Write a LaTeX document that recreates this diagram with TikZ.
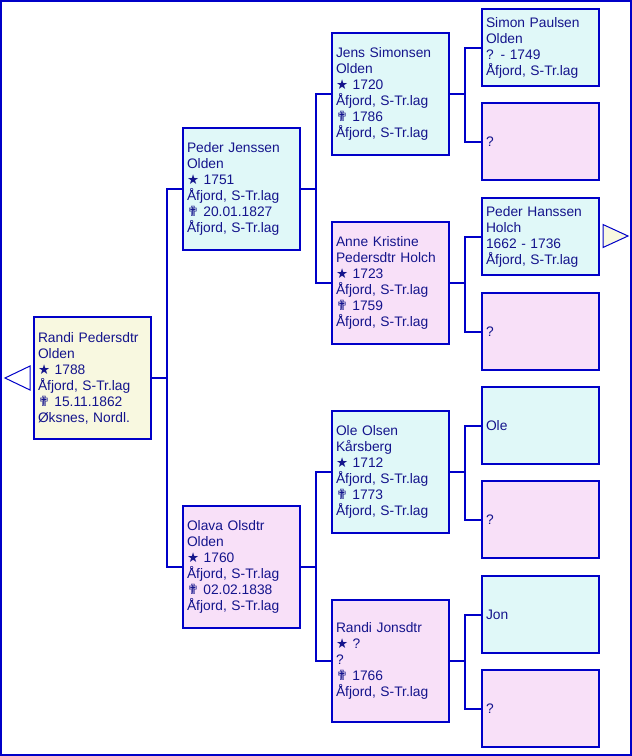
\documentclass[tikz,border=0pt]{standalone}
\usepackage{fontspec}
\setmainfont{Liberation Sans}
\newfontfamily\symfont{DejaVu Sans}
\definecolor{lineblue}{RGB}{0,0,200}
\definecolor{textblue}{RGB}{20,20,140}
\definecolor{fillcyan}{RGB}{224,248,248}
\definecolor{fillpink}{RGB}{248,224,248}
\definecolor{fillcream}{RGB}{248,248,224}
\newcommand\bstar{{\symfont\fontsize{13.5}{16}\selectfont ★}}
\newcommand\dcross{{\symfont\fontsize{14}{16}\selectfont ✟}}
\begin{document}
\begin{tikzpicture}[x=1pt,y=-1pt,
  box/.style={draw=lineblue, line width=2pt, outer sep=0pt, anchor=north west,
    minimum width=117pt, minimum height=122pt, inner xsep=4pt, inner ysep=0pt,
    text width=109pt, align=left, text=textblue,
    font=\fontsize{13.8}{16}\selectfont},
  smallbox/.style={box, minimum height=77pt},
  cyanbox/.style={fill=fillcyan},
  pinkbox/.style={fill=fillpink},
  creambox/.style={fill=fillcream},
  conn/.style={draw=lineblue, line width=2pt, line join=miter},
  tri/.style={draw=lineblue, line width=1pt, line join=miter}]
\useasboundingbox (0,0) rectangle (632,756);
\fill[white] (0,0) rectangle (632,756);
\draw[lineblue, line width=2pt] (1,1) rectangle (631,755);

% generation 1
\node[box, creambox] (root) at (34,317) {Randi Pedersdtr\\Olden\\\bstar~1788\\Åfjord, S-Tr.lag\\\dcross~15.11.1862\\Øksnes, Nordl.};

% generation 2
\node[box, cyanbox] (p) at (183,128) {Peder Jenssen\\Olden\\\bstar~1751\\Åfjord, S-Tr.lag\\\dcross~20.01.1827\\Åfjord, S-Tr.lag};
\node[box, pinkbox] (m) at (183,506) {Olava Olsdtr\\Olden\\\bstar~1760\\Åfjord, S-Tr.lag\\\dcross~02.02.1838\\Åfjord, S-Tr.lag};

% generation 3
\node[box, cyanbox] (pp) at (332,33) {Jens Simonsen\\Olden\\\bstar~1720\\Åfjord, S-Tr.lag\\\dcross~1786\\Åfjord, S-Tr.lag};
\node[box, pinkbox] (pm) at (332,222) {Anne Kristine\\Pedersdtr Holch\\\bstar~1723\\Åfjord, S-Tr.lag\\\dcross~1759\\Åfjord, S-Tr.lag};
\node[box, cyanbox] (mp) at (332,411) {Ole Olsen\\Kårsberg\\\bstar~1712\\Åfjord, S-Tr.lag\\\dcross~1773\\Åfjord, S-Tr.lag};
\node[box, pinkbox] (mm) at (332,600) {Randi Jonsdtr\\\bstar~?\\?\\\dcross~1766\\Åfjord, S-Tr.lag};

% generation 4
\node[smallbox, cyanbox] (ppp) at (482,9) {Simon Paulsen\\Olden\\? - 1749\\Åfjord, S-Tr.lag};
\node[smallbox, pinkbox] (ppm) at (482,103) {?};
\node[smallbox, cyanbox] (pmp) at (482,198) {Peder Hanssen\\Holch\\1662 - 1736\\Åfjord, S-Tr.lag};
\node[smallbox, pinkbox] (pmm) at (482,293) {?};
\node[smallbox, cyanbox] (mpp) at (482,387) {Ole};
\node[smallbox, pinkbox] (mpm) at (482,481) {?};
\node[smallbox, cyanbox] (mmp) at (482,576) {Jon};
\node[smallbox, pinkbox] (mmm) at (482,670) {?};

% connectors
\draw[conn] (root.east) -- ++(16,0) coordinate (j0);
\draw[conn] (p.west) -| (j0) |- (m.west);
\draw[conn] (p.east) -- ++(16,0) coordinate (j1);
\draw[conn] (pp.west) -| (j1) |- (pm.west);
\draw[conn] (m.east) -- ++(16,0) coordinate (j2);
\draw[conn] (mp.west) -| (j2) |- (mm.west);
\draw[conn] (pp.east) -- ++(16,0) coordinate (j3);
\draw[conn] (ppp.west) -| (j3) |- (ppm.west);
\draw[conn] (pm.east) -- ++(16,0) coordinate (j4);
\draw[conn] (pmp.west) -| (j4) |- (pmm.west);
\draw[conn] (mp.east) -- ++(16,0) coordinate (j5);
\draw[conn] (mpp.west) -| (j5) |- (mpm.west);
\draw[conn] (mm.east) -- ++(16,0) coordinate (j6);
\draw[conn] (mmp.west) -| (j6) |- (mmm.west);

% navigation triangles
\draw[tri, fill=white] (5,378) -- (30,366) -- (30,390) -- cycle;
\draw[tri, fill=fillcream] (628,236) -- (603,224.5) -- (603,247.5) -- cycle;
\end{tikzpicture}
\end{document}
